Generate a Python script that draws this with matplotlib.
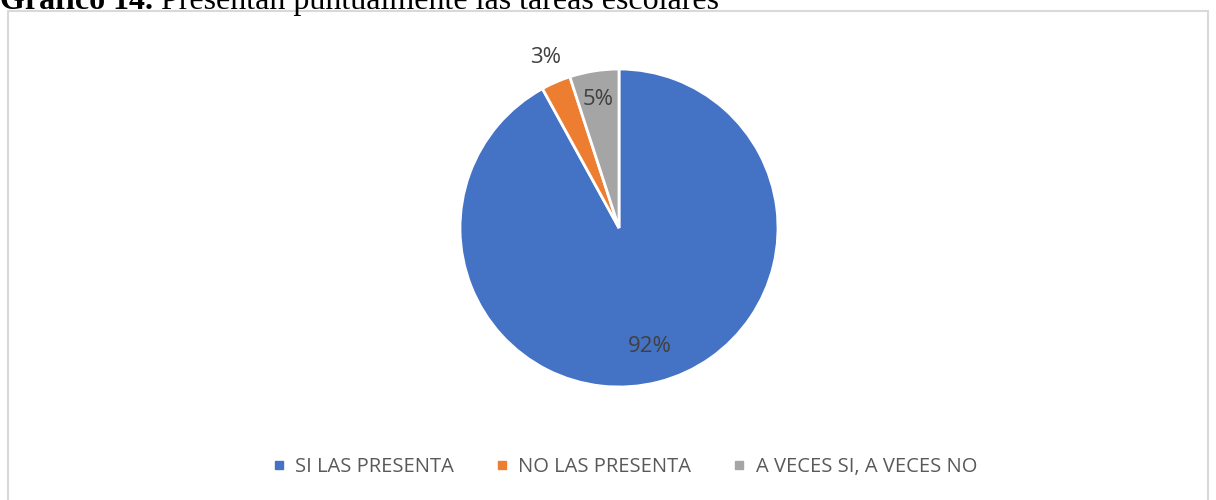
import matplotlib.pyplot as plt
import matplotlib.patches as mpatches
from matplotlib.lines import Line2D
import numpy as np

labels = ['SI LAS PRESENTA', 'NO LAS PRESENTA', 'A VECES SI, A VECES NO']
values = [92, 3, 5]
colors = ['#4472C4', '#ED7D31', '#A5A5A5']
# where each percentage label sits, as a fraction of the radius
label_dist = [0.77, 1.17, 0.82]

title_bold = 'Gráfico 14.'
title_rest = ' Presentan puntualmente las tareas escolares'

W, H = 1216, 500
fig = plt.figure(figsize=(W / 100, H / 100), dpi=100)

# chart frame (Excel chart area border)
fig.patches.append(mpatches.Rectangle((8 / W, -0.05), 1200 / W, 1.05 - 11 / H,
                                      transform=fig.transFigure, fill=False,
                                      edgecolor='#D9D9D9', linewidth=1.5))

# title, clipped at the top like in the document
t = fig.text(0.0, 1 - 9 / H, title_bold, fontsize=23, fontweight='bold',
             family='Liberation Serif', va='baseline', ha='left')
fig.canvas.draw()
bb = t.get_window_extent()
fig.text(bb.x1 / W, 1 - 9 / H, title_rest, fontsize=23,
         family='Liberation Serif', va='baseline', ha='left')

cx, cy, R = 619, 228, 159
ax = fig.add_axes([(cx - R) / W, (H - cy - R) / H, 2 * R / W, 2 * R / H])
wedges, _ = ax.pie(values, colors=colors, startangle=90, counterclock=False,
                   wedgeprops=dict(edgecolor='white', linewidth=2))
ax.set_xlim(-1, 1)
ax.set_ylim(-1, 1)
ax.set_aspect('equal')
ax.axis('off')

for w, v, d in zip(wedges, values, label_dist):
    ang = np.deg2rad((w.theta1 + w.theta2) / 2)
    ax.text(d * np.cos(ang), d * np.sin(ang), f'{v}%', ha='center', va='center',
            fontsize=16, color='#404040', family='Open Sans')

handles = [Line2D([], [], marker='s', linestyle='', markersize=6, color=c) for c in colors]
fig.legend(handles, labels, loc='center', bbox_to_anchor=(0.513, 1 - 467 / H), ncol=3,
           frameon=False, handlelength=0.8, handletextpad=0.4, columnspacing=2.0,
           prop=dict(family='Open Sans', size=14.5), labelcolor='#595959')

fig.savefig('out.png', dpi=100)
